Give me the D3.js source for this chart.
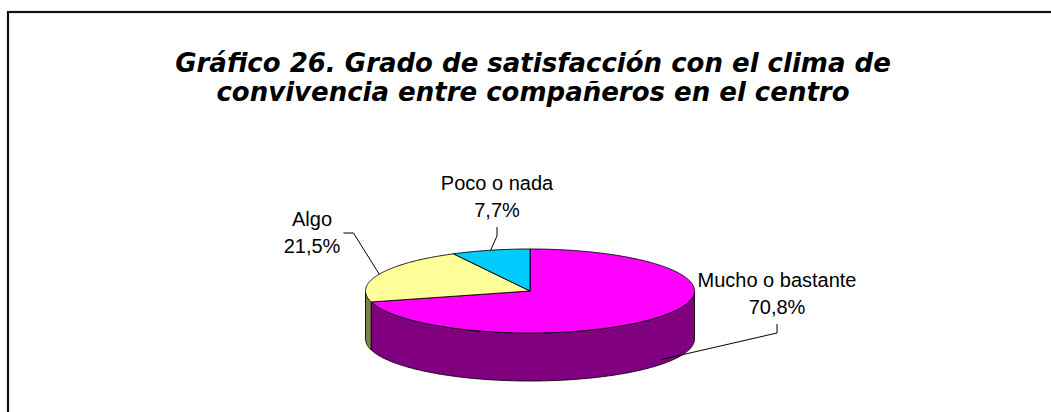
<!DOCTYPE html>
<html>
<head>
<meta charset="utf-8">
<script src="https://cdn.jsdelivr.net/npm/d3@7"></script>
<style>
  html,body{margin:0;padding:0;background:#fff;}
  svg{display:block;}
</style>
</head>
<body>
<div id="chart"></div>
<script>
// ---- data ----
const categories = ["Mucho o bastante", "Algo", "Poco o nada"];
const values = [70.8, 21.5, 7.7];
const valueLabels = ["70,8%", "21,5%", "7,7%"];
const titleLines = ["Gráfico 26. Grado de satisfacción con el clima de",
                    "convivencia entre compañeros en el centro"];
const topColors = ["#FF00FF", "#FFFF99", "#00CCFF"];
const sideColors = ["#800080", "#80804D", "#006680"];

// ---- layout ----
const W = 1051, H = 412;
const cx = 530, cy = 291, rx = 164.5, ry = 42, depth = 48;
// label placement relative to pie centre: [dx, dy of first baseline], elbow side
const labelLayout = [
  {dx: 247, dy: -4, elbow: "bottom"},
  {dx: -218, dy: -65, elbow: "right"},
  {dx: -33, dy: -101, elbow: "bottom"}
];

const svg = d3.select("#chart").append("svg")
  .attr("width", W).attr("height", H);

// frame
svg.append("rect")
  .attr("x", 8).attr("y", 12)
  .attr("width", W + 40).attr("height", H + 40)
  .attr("fill", "none").attr("stroke", "#111").attr("stroke-width", 2.2);

// title
const title = svg.append("text")
  .attr("text-anchor", "middle")
  .attr("font-family", "DejaVu Sans, Verdana, sans-serif")
  .attr("font-weight", "bold")
  .attr("font-style", "italic")
  .attr("font-size", 26)
  .attr("fill", "#000");
titleLines.forEach((t, i) => {
  title.append("tspan").attr("x", 533).attr("y", 72 + i * 29).text(t);
});

// pie geometry
const pie = d3.pie().sort(null).value(d => d).startAngle(0).endAngle(2 * Math.PI);
const arcs = pie(values);

const pt = (a, dz) => [cx + rx * Math.sin(a), cy - ry * Math.cos(a) + dz];
const sample = (a0, a1) => {
  const n = Math.max(2, Math.ceil(Math.abs(a1 - a0) / 0.01));
  return d3.range(n + 1).map(i => a0 + (a1 - a0) * i / n);
};
const line = d3.line();

const g = svg.append("g");

// sides (visible front part: angles between PI/2 and 3PI/2)
arcs.forEach((d, i) => {
  const a0 = Math.max(d.startAngle, Math.PI / 2);
  const a1 = Math.min(d.endAngle, 3 * Math.PI / 2);
  if (a1 <= a0) return;
  const top = sample(a0, a1).map(a => pt(a, 0));
  const bot = sample(a1, a0).map(a => pt(a, depth));
  g.append("path")
    .attr("d", line(top.concat(bot)) + "Z")
    .attr("fill", sideColors[i])
    .attr("stroke", "#000").attr("stroke-width", 0.9)
    .attr("stroke-linejoin", "round");
});

// top faces
arcs.forEach((d, i) => {
  const pts = [[cx, cy]].concat(sample(d.startAngle, d.endAngle).map(a => pt(a, 0)));
  g.append("path")
    .attr("d", line(pts) + "Z")
    .attr("fill", topColors[i])
    .attr("stroke", "#000").attr("stroke-width", 0.9)
    .attr("stroke-linejoin", "round");
});

// labels + leader lines
const fs = 20, lh = 27;
arcs.forEach((d, i) => {
  const L = labelLayout[i];
  const lx = cx + L.dx, ly = cy + L.dy;
  const t = svg.append("text")
    .attr("text-anchor", "middle")
    .attr("font-family", "Liberation Sans, Arial, sans-serif")
    .attr("font-size", fs).attr("fill", "#000");
  t.append("tspan").attr("x", lx).attr("y", ly).text(categories[i]);
  t.append("tspan").attr("x", lx).attr("y", ly + lh).text(valueLabels[i]);

  const mid = (d.startAngle + d.endAngle) / 2;
  const front = Math.cos(mid) < 0;
  const anchor = pt(mid, front ? depth * 0.9 : 0);
  let p0, p1;
  if (L.elbow === "bottom") {
    p0 = [lx, ly + lh + 10];
    p1 = [lx, ly + lh + 19];
  } else {
    const w = t.node().getBBox().width;
    p0 = [lx + w / 2 + 3, ly + 7];
    p1 = [lx + w / 2 + 13, ly + 7];
  }
  svg.append("path")
    .attr("d", line([p0, p1, anchor]))
    .attr("fill", "none").attr("stroke", "#000").attr("stroke-width", 1);
});
</script>
</body>
</html>
